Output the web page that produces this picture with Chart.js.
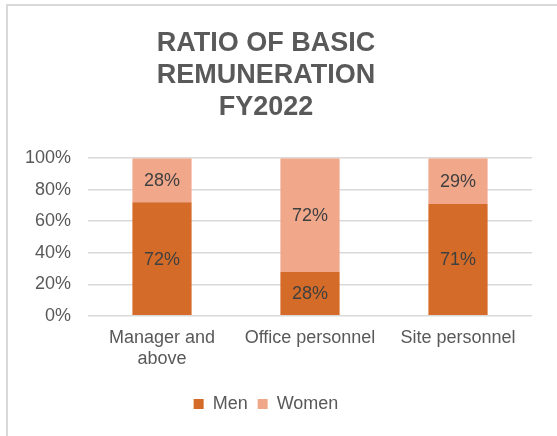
<!DOCTYPE html>
<html>
<head>
<meta charset="utf-8">
<script src="https://cdn.jsdelivr.net/npm/chart.js@4/dist/chart.umd.min.js"></script>
<style>
  html, body { margin: 0; padding: 0; background: #fff; }
  .frame { position: absolute; left: 6px; top: 4px; width: 600px; height: 500px;
           border-left: 2px solid #d9d9d9; border-top: 2px solid #d9d9d9; }
  #chart1 { position: absolute; left: 0; top: 0; }
</style>
</head>
<body>
<div class="frame"></div>
<canvas id="chart1" width="557" height="436"></canvas>
<script>
const categories = [['Manager and', 'above'], 'Office personnel', 'Site personnel'];
const men = [72, 28, 71];
const women = [28, 72, 29];
const yTicks = [0, 20, 40, 60, 80, 100];

const FONT = "'Liberation Sans', Arial, sans-serif";

// draws the % value in the middle of each bar segment
const barLabels = {
  id: 'barLabels',
  afterDatasetsDraw(chart) {
    const ctx = chart.ctx;
    ctx.save();
    ctx.font = '18px ' + FONT;
    ctx.fillStyle = '#404040';
    ctx.textAlign = 'center';
    ctx.textBaseline = 'middle';
    chart.data.datasets.forEach((ds, i) => {
      const meta = chart.getDatasetMeta(i);
      meta.data.forEach((bar, j) => {
        const p = bar.getProps(['x', 'y', 'base'], true);
        ctx.fillText(ds.data[j] + '%', p.x, (p.y + p.base) / 2 + 1);
      });
    });
    ctx.restore();
  }
};

var ctx = document.getElementById('chart1').getContext('2d');
var myChart = new Chart(ctx, {
  type: 'bar',
  data: {
    labels: categories,
    datasets: [{
      label: 'Men',
      data: men,
      backgroundColor: '#D46B28',
    }, {
      label: 'Women',
      data: women,
      backgroundColor: '#F1A78A',
    }]
  },
  options: {
    responsive: false,
    animation: false,
    barPercentage: 0.4,
    categoryPercentage: 1,
    layout: { padding: { left: 0, right: 25, top: 0, bottom: 13 } },
    plugins: {
      title: {
        display: true,
        text: ['RATIO OF BASIC', 'REMUNERATION', 'FY2022'],
        color: '#595959',
        font: { family: FONT, size: 27, weight: 'bold', lineHeight: 1.2 },
        padding: { top: 27, bottom: 34 }
      },
      legend: {
        position: 'bottom',
        labels: {
          color: '#595959',
          font: { family: FONT, size: 18 },
          boxWidth: 10,
          boxHeight: 10,
          padding: 10
        }
      },
      tooltip: { enabled: false }
    },
    scales: {
      x: {
        stacked: true,
        grid: { display: false },
        border: { display: false },
        ticks: {
          color: '#595959',
          font: { family: FONT, size: 18, lineHeight: 1.2 },
          padding: 3,
          maxRotation: 0,
          autoSkip: false
        },
        afterFit(scale) { scale.height += 12; }
      },
      y: {
        stacked: true,
        min: yTicks[0],
        max: yTicks[yTicks.length - 1],
        afterBuildTicks(scale) { scale.ticks = yTicks.map(v => ({ value: v })); },
        grid: { color: '#d9d9d9', lineWidth: 1.5, drawTicks: false },
        border: { display: false },
        ticks: {
          color: '#595959',
          font: { family: FONT, size: 18 },
          padding: 17,
          callback: v => v + '%'
        },
        afterFit(scale) { scale.width = 88; }
      }
    }
  },
  plugins: [barLabels]
});
</script>
</body>
</html>
